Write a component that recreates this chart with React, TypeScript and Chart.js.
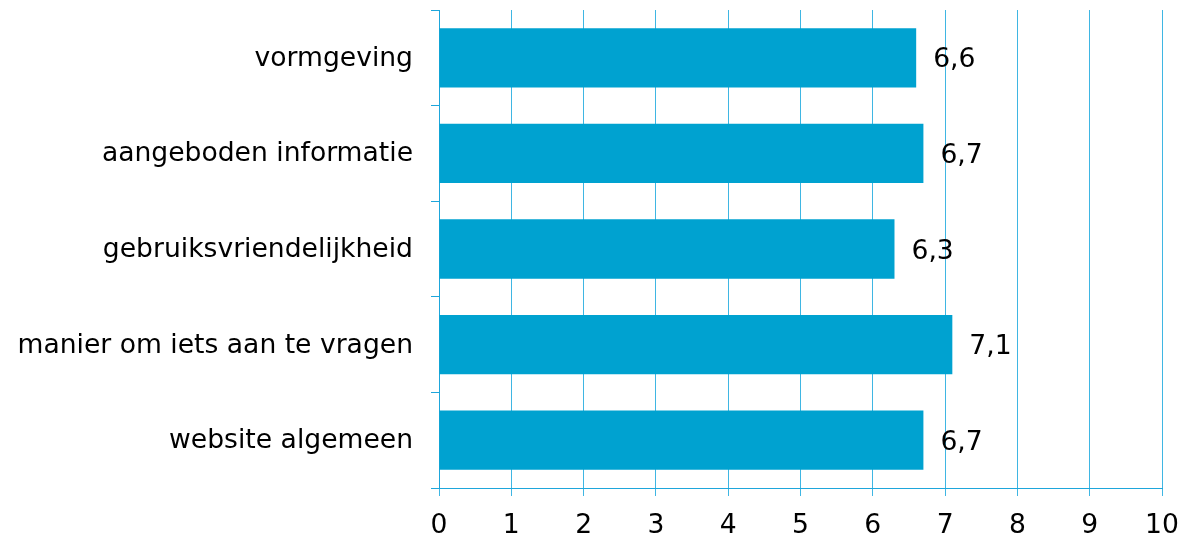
import React, { useEffect, useRef } from "react";
import { Chart, registerables } from "chart.js";

Chart.register(...registerables);

// Rapportcijfers per onderdeel van de website
const categories = [
  "vormgeving",
  "aangeboden informatie",
  "gebruiksvriendelijkheid",
  "manier om iets aan te vragen",
  "website algemeen",
];
const scores = [6.6, 6.7, 6.3, 7.1, 6.7];
const xTicks = [0, 1, 2, 3, 4, 5, 6, 7, 8, 9, 10];

const BAR_COLOR = "#00a2d0";
const GRID_COLOR = "#3fb6e3";
const AXIS_COLOR = "#1ea6db";
const TEXT_COLOR = "#000000";
const FONT_FAMILY = "'DejaVu Sans', Verdana, sans-serif";
const FONT_SIZE = 26.6;

// Schrijft de score (met komma) rechts naast elke balk
const valueLabels = {
  id: "valueLabels",
  afterDatasetsDraw(chart: any) {
    const { ctx } = chart;
    const meta = chart.getDatasetMeta(0);
    ctx.save();
    ctx.font = `${FONT_SIZE}px ${FONT_FAMILY}`;
    ctx.fillStyle = TEXT_COLOR;
    ctx.textAlign = "left";
    ctx.textBaseline = "alphabetic";
    meta.data.forEach((bar: any, i: number) => {
      const text = scores[i].toFixed(1).replace(".", ",");
      ctx.fillText(text, bar.x + 17, bar.y + 9.5);
    });
    ctx.restore();
  },
};

export default function App() {
  const canvasRef = useRef<HTMLCanvasElement | null>(null);

  useEffect(() => {
    if (!canvasRef.current) return;
    const chart = new Chart(canvasRef.current, {
      type: "bar",
      data: {
        labels: categories,
        datasets: [
          {
            data: scores,
            backgroundColor: BAR_COLOR,
            borderWidth: 0,
            barPercentage: 0.62,
            categoryPercentage: 1,
          },
        ],
      },
      options: {
        indexAxis: "y",
        animation: false,
        responsive: false,
        layout: { padding: { top: 10, right: 36, bottom: 0, left: 0 } },
        plugins: {
          legend: { display: false },
          tooltip: { enabled: false },
        },
        scales: {
          x: {
            min: 0,
            max: 10,
            afterBuildTicks: (scale: any) => {
              scale.ticks = xTicks.map((v) => ({ value: v }));
            },
            afterFit: (scale: any) => {
              scale.height = 49;
              scale.paddingLeft = 0;
            },
            grid: {
              color: GRID_COLOR,
              lineWidth: 1,
              drawOnChartArea: true,
              drawTicks: true,
              tickLength: 8,
            },
            border: { display: true, color: AXIS_COLOR, width: 1 },
            ticks: {
              color: TEXT_COLOR,
              font: { family: FONT_FAMILY, size: FONT_SIZE },
              padding: 14,
              maxRotation: 0,
            },
          },
          y: {
            afterFit: (scale: any) => {
              scale.width = 439;
              scale.paddingTop = 0;
              scale.paddingBottom = 0;
            },
            grid: {
              color: AXIS_COLOR,
              offset: true,
              drawOnChartArea: false,
              drawTicks: true,
              tickLength: 8,
            },
            border: { display: true, color: AXIS_COLOR, width: 1 },
            ticks: {
              color: TEXT_COLOR,
              font: { family: FONT_FAMILY, size: FONT_SIZE },
              padding: 18,
              labelOffset: 1,
            },
          },
        },
      },
      plugins: [valueLabels],
    });
    return () => chart.destroy();
  }, []);

  return (
    <div
      style={{
        position: "fixed",
        left: 0,
        top: 0,
        width: 1198,
        height: 537,
        background: "#ffffff",
      }}
    >
      <canvas ref={canvasRef} width={1198} height={537} />
    </div>
  );
}
